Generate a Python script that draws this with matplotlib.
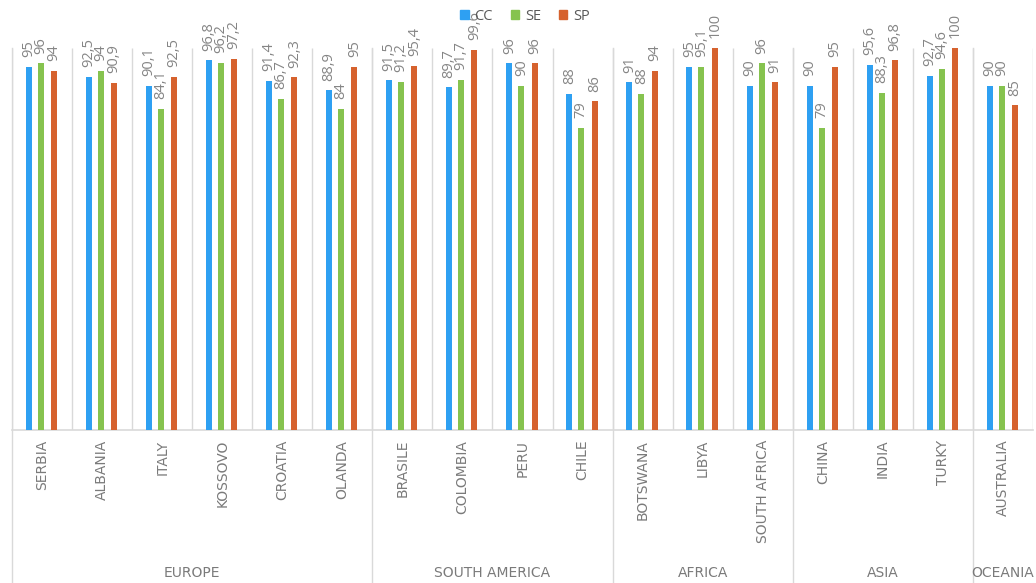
import matplotlib
matplotlib.use("Agg")
import matplotlib.pyplot as plt
import matplotlib.transforms as mtransforms
from matplotlib.patches import Patch
import numpy as np

# data
countries = ["SERBIA", "ALBANIA", "ITALY", "KOSSOVO", "CROATIA", "OLANDA",
             "BRASILE", "COLOMBIA", "PERU", "CHILE",
             "BOTSWANA", "LIBYA", "SOUTH AFRICA",
             "CHINA", "INDIA", "TURKY",
             "AUSTRALIA"]
groups = ["EUROPE", "SOUTH AMERICA", "AFRICA", "ASIA", "OCEANIA"]
group_sizes = [6, 4, 3, 3, 1]

cc = [95, 92.5, 90.1, 96.8, 91.4, 88.9,
      91.5, 89.7, 96, 88,
      91, 95, 90,
      90, 95.6, 92.7,
      90]
se = [96, 94, 84.1, 96.2, 86.7, 84,
      91.2, 91.7, 90, 79,
      88, 95.1, 96,
      79, 88.3, 94.6,
      90]
sp = [94, 90.9, 92.5, 97.2, 92.3, 95,
      95.4, 99.6, 96, 86,
      94, 100, 91,
      95, 96.8, 100,
      85]
series_names = ["CC", "SE", "SP"]
colors = ["#2EA0F2", "#86C34F", "#D6622E"]

grey_line = "#d9d9d9"
text_grey = "#7a7a7a"


def fmt(v):
    if float(v).is_integer():
        return "%d" % v
    return ("%.1f" % v).replace(".", ",")


fig = plt.figure(figsize=(10.36, 5.83), dpi=100)
ax = fig.add_axes([12 / 1036, 1 - 430 / 583, (1033 - 12) / 1036, (430 - 48) / 583])

x = np.arange(len(countries))
width = 0.1
offsets = [-0.22, -0.02, 0.2]

for vals, off, col, name in zip([cc, se, sp], offsets, colors, series_names):
    bars = ax.bar(x + off, vals, width, color=col, label=name, zorder=3)
    for b, v in zip(bars, vals):
        ax.annotate(fmt(v), (b.get_x() + b.get_width() / 2, b.get_height()),
                    xytext=(0, 7), textcoords="offset points",
                    rotation=90, ha="center", va="bottom",
                    fontsize=10.5, color="#858585", family="Open Sans",
                    annotation_clip=False, clip_on=False)

ax.set_xlim(-0.5, len(countries) - 0.5)
ax.set_ylim(0, 100)

# separators between countries
ax.vlines(np.arange(len(countries) + 1) - 0.5, 0, 100, colors=grey_line, lw=1, zorder=1)

# group dividers reaching down through the label area
trans = mtransforms.blended_transform_factory(ax.transData, ax.transAxes)
bounds = np.concatenate([[0], np.cumsum(group_sizes)]) - 0.5
for b in bounds[:-1]:
    ax.plot([b, b], [1, -0.42], color=grey_line, lw=1, transform=trans, clip_on=False)

starts = bounds[:-1]
for g, s, n in zip(groups, starts, group_sizes):
    ax.text(s + n / 2, -0.374, g, transform=trans, ha="center", va="center",
            fontsize=10, color=text_grey, family="DejaVu Sans")

for sp_name in ["top", "left", "right"]:
    ax.spines[sp_name].set_visible(False)
ax.spines["bottom"].set_color(grey_line)
ax.spines["bottom"].set_linewidth(1.2)
ax.set_yticks([])
ax.set_xticks(x)
ax.set_xticklabels(countries, rotation=90, fontsize=10, color=text_grey, family="DejaVu Sans")
ax.tick_params(axis="x", length=0, pad=7)

handles = [Patch(color=c, label=n) for c, n in zip(colors, series_names)]
fig.legend(handles=handles, loc="center", bbox_to_anchor=(525 / 1036, 1 - 16 / 583),
           ncol=3, frameon=False, fontsize=10.5, handlelength=0.6, handleheight=0.6,
           handletextpad=0.4, columnspacing=1.2, labelcolor="#595959",
           prop={"family": "Open Sans", "size": 10.5})

fig.savefig("out.png", dpi=100)
